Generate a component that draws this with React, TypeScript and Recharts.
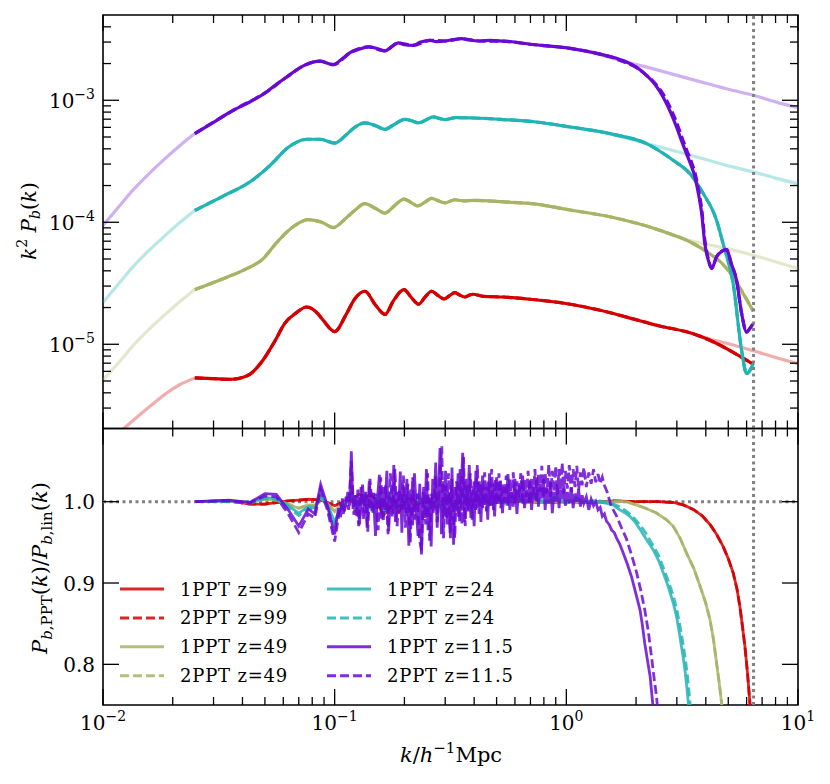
import React from 'react';
import { LineChart, Line, XAxis, YAxis, ReferenceLine, ReferenceArea } from 'recharts';

const RED = '#d40000';
const OLIVE = '#a8b366';
const CYAN = '#22b4b4';
const PURPLE = '#6a08d4';
const GREY = '#808080';
const FONT = "'DejaVu Serif', serif";

// page geometry (svg == page coords)
const W = 830, H = 784;
const L = 103, R = 798, T1 = 15, B1 = 428.5, T2 = 428.5, B2 = 705;

const kNyq = 6.43;
const topDomain = [2.04e-6, 5.0e-3];
const ratioDomain = [0.75, 1.09];

const xTicks = [
  0.01, 0.02, 0.03, 0.04, 0.05, 0.06, 0.07, 0.08, 0.09,
  0.1, 0.2, 0.3, 0.4, 0.5, 0.6, 0.7, 0.8, 0.9,
  1, 2, 3, 4, 5, 6, 7, 8, 9, 10,
];
const topYTicks = [
  3e-6, 4e-6, 5e-6, 6e-6, 7e-6, 8e-6, 9e-6,
  1e-5, 2e-5, 3e-5, 4e-5, 5e-5, 6e-5, 7e-5, 8e-5, 9e-5,
  1e-4, 2e-4, 3e-4, 4e-4, 5e-4, 6e-4, 7e-4, 8e-4, 9e-4,
  1e-3, 2e-3, 3e-3, 4e-3,
];
const ratioYTicks = [0.8, 0.9, 1.0];

// ---- top panel: k^2 P_b(k) ----
const topRed1 = [
  [0.0249, 5.3e-6], [0.03, 5.22e-6], [0.0353, 5.16e-6], [0.04, 5.35e-6], [0.043, 5.67e-6],
  [0.049, 7.4e-6], [0.055, 1.05e-5], [0.061, 1.49e-5], [0.068, 1.8e-5], [0.0757, 2.02e-5],
  [0.083, 1.85e-5], [0.0893, 1.57e-5], [0.1, 1.27e-5], [0.112, 1.75e-5], [0.122, 2.35e-5],
  [0.135, 2.72e-5], [0.15, 2.1e-5], [0.165, 1.76e-5], [0.18, 2.3e-5], [0.199, 2.81e-5],
  [0.215, 2.4e-5], [0.23, 2.13e-5], [0.245, 2.42e-5], [0.262, 2.72e-5], [0.28, 2.5e-5],
  [0.297, 2.35e-5], [0.313, 2.5e-5], [0.33, 2.65e-5], [0.348, 2.52e-5], [0.365, 2.44e-5],
  [0.38, 2.52e-5], [0.396, 2.57e-5], [0.438, 2.47e-5], [0.535, 2.44e-5], [0.697, 2.34e-5],
  [1.04, 2.13e-5], [1.4, 1.9e-5], [1.82, 1.67e-5], [2.5, 1.42e-5], [3.53, 1.22e-5],
  [4.3, 1.05e-5], [4.92, 9.2e-6], [5.6, 8.0e-6], [6.41, 6.86e-6],
];
const topOlive1 = [
  [0.0249, 2.81e-5], [0.033, 3.45e-5], [0.0417, 4.17e-5], [0.0492, 5.04e-5], [0.055, 6.5e-5],
  [0.0621, 8.3e-5], [0.069, 9.7e-5], [0.0769, 1.05e-4], [0.088, 1.0e-4], [0.0986, 9.05e-5],
  [0.11, 1.05e-4], [0.122, 1.25e-4], [0.135, 1.42e-4], [0.15, 1.3e-4], [0.165, 1.19e-4],
  [0.18, 1.35e-4], [0.199, 1.55e-4], [0.214, 1.45e-4], [0.228, 1.36e-4], [0.245, 1.46e-4],
  [0.262, 1.57e-4], [0.28, 1.5e-4], [0.3, 1.44e-4], [0.315, 1.49e-4], [0.33, 1.53e-4],
  [0.36, 1.5e-4], [0.396, 1.51e-4], [0.535, 1.47e-4], [0.74, 1.41e-4], [1.04, 1.26e-4],
  [1.54, 1.11e-4], [2.53, 8.6e-5], [3.53, 6.7e-5], [4.17, 5.5e-5], [4.7, 4.6e-5],
  [5.25, 3.56e-5], [5.8, 2.6e-5], [6.41, 1.87e-5],
];
const topCyan1 = [
  [0.0249, 1.25e-4], [0.033, 1.64e-4], [0.043, 2.14e-4], [0.0508, 2.75e-4], [0.056, 3.3e-4],
  [0.0621, 4.02e-4], [0.068, 4.5e-4], [0.0757, 4.79e-4], [0.0866, 4.79e-4], [0.1, 4.46e-4],
  [0.112, 5.2e-4], [0.122, 6.0e-4], [0.135, 6.52e-4], [0.15, 6.2e-4], [0.165, 5.78e-4],
  [0.18, 6.3e-4], [0.2, 6.98e-4], [0.215, 6.8e-4], [0.23, 6.52e-4], [0.248, 6.9e-4],
  [0.266, 7.3e-4], [0.283, 7.1e-4], [0.3, 6.95e-4], [0.335, 7.22e-4], [0.396, 7.16e-4],
  [0.535, 6.95e-4], [0.74, 6.64e-4], [1.04, 6.04e-4], [1.54, 5.33e-4], [2.22, 4.41e-4],
  [2.89, 3.22e-4], [3.41, 2.51e-4], [3.9, 1.72e-4], [4.45, 1.04e-4], [4.75, 6.68e-5],
  [5.25, 3.15e-5], [5.71, 8.9e-6], [6.0, 5.75e-6], [6.41, 6.95e-6],
];
const topPurple1 = [
  [0.0249, 5.33e-4], [0.03, 6.6e-4], [0.0365, 8.28e-4], [0.043, 9.68e-4], [0.0508, 1.17e-3],
  [0.056, 1.35e-3], [0.0621, 1.55e-3], [0.068, 1.76e-3], [0.0743, 1.94e-3], [0.0866, 2.09e-3],
  [0.0986, 1.96e-3], [0.108, 2.2e-3], [0.118, 2.49e-3], [0.126, 2.6e-3], [0.14, 2.74e-3],
  [0.152, 2.66e-3], [0.165, 2.54e-3], [0.176, 2.75e-3], [0.188, 2.95e-3], [0.2, 2.85e-3],
  [0.218, 2.82e-3], [0.235, 3.0e-3], [0.258, 3.1e-3], [0.275, 3.02e-3], [0.3, 3.06e-3],
  [0.325, 3.14e-3], [0.353, 3.2e-3], [0.38, 3.12e-3], [0.424, 3.06e-3], [0.47, 3.1e-3],
  [0.535, 3.05e-3], [0.6, 3.0e-3], [0.697, 2.88e-3], [0.85, 2.78e-3], [1.04, 2.66e-3],
  [1.31, 2.46e-3], [1.55, 2.28e-3], [1.82, 2.06e-3], [2.0, 1.88e-3], [2.22, 1.6e-3],
  [2.42, 1.34e-3], [2.62, 1.06e-3], [2.8, 8.2e-4], [2.99, 6.04e-4], [3.15, 4.6e-4],
  [3.3, 3.65e-4], [3.45, 2.95e-4], [3.59, 2.35e-4], [3.72, 1.7e-4], [3.84, 1.18e-4],
  [3.96, 6.68e-5], [4.1, 4.9e-5], [4.24, 4.17e-5], [4.45, 5.2e-5], [4.7, 5.8e-5],
  [4.92, 5.97e-5], [5.15, 4.6e-5], [5.43, 3.35e-5], [5.71, 1.79e-5], [6.0, 1.26e-5],
  [6.2, 1.35e-5], [6.41, 1.48e-5],
];
const topPurple2 = [
  [0.0249, 5.33e-4], [0.0365, 8.28e-4], [0.0508, 1.17e-3], [0.0621, 1.55e-3], [0.0743, 1.94e-3],
  [0.0866, 2.09e-3], [0.0986, 1.96e-3], [0.118, 2.49e-3], [0.14, 2.74e-3], [0.165, 2.54e-3],
  [0.188, 2.95e-3], [0.218, 2.82e-3], [0.258, 3.1e-3], [0.3, 3.06e-3], [0.353, 3.2e-3],
  [0.424, 3.06e-3], [0.535, 3.05e-3], [0.697, 2.88e-3], [1.04, 2.66e-3], [1.31, 2.46e-3],
  [1.55, 2.27e-3], [1.82, 2.02e-3], [2.0, 1.86e-3], [2.22, 1.6e-3], [2.42, 1.37e-3],
  [2.62, 1.12e-3], [2.8, 8.8e-4], [2.99, 6.6e-4], [3.15, 5.0e-4], [3.3, 3.95e-4],
  [3.45, 3.2e-4], [3.59, 2.55e-4], [3.72, 1.85e-4], [3.84, 1.28e-4], [3.96, 7.2e-5],
  [4.1, 5.0e-5], [4.24, 4.2e-5], [4.45, 5.2e-5], [4.7, 5.8e-5], [4.92, 5.97e-5],
  [5.15, 4.6e-5], [5.43, 3.35e-5], [5.71, 1.79e-5], [6.0, 1.26e-5], [6.2, 1.35e-5], [6.41, 1.48e-5],
];

// linear theory (faint), left and right of the measured range
const linRedLeft = [
  [0.01, 1.43e-6], [0.01205, 1.97e-6], [0.01352, 2.38e-6], [0.01596, 3.1e-6], [0.01883, 3.99e-6],
  [0.0215, 4.68e-6], [0.0249, 5.3e-6],
];
const linRedRight = [[3.53, 1.22e-5], [4.2, 1.1e-5], [4.92, 1.02e-5], [6.41, 8.85e-6], [8.0, 7.8e-6], [10, 6.93e-6]];
const linOliveLeft = [
  [0.01, 5.1e-6], [0.012, 7.5e-6], [0.01352, 9.8e-6], [0.01596, 1.35e-5], [0.01883, 1.8e-5],
  [0.0215, 2.24e-5], [0.0249, 2.81e-5],
];
const linOliveRight = [[2.53, 8.6e-5], [3.0, 7.6e-5], [3.76, 6.8e-5], [5.0, 6.05e-5], [6.41, 5.37e-5], [8.0, 4.75e-5], [10, 4.17e-5]];
const linCyanLeft = [
  [0.01, 2.2e-5], [0.012, 3.33e-5], [0.01352, 4.35e-5], [0.01596, 5.98e-5], [0.01883, 8.0e-5],
  [0.0215, 9.98e-5], [0.0249, 1.25e-4],
];
const linCyanRight = [[1.54, 5.33e-4], [2.22, 4.41e-4], [3.0, 3.8e-4], [4.0, 3.27e-4], [5.0, 2.9e-4], [6.41, 2.59e-4], [8.0, 2.3e-4], [10, 2.07e-4]];
const linPurpleLeft = [
  [0.01, 9.4e-5], [0.012, 1.42e-4], [0.01352, 1.85e-4], [0.01596, 2.55e-4], [0.01883, 3.42e-4],
  [0.0215, 4.26e-4], [0.0249, 5.33e-4],
];
const linPurpleRight = [[1.31, 2.46e-3], [1.82, 2.06e-3], [2.4, 1.8e-3], [3.0, 1.6e-3], [4.0, 1.38e-3], [5.0, 1.23e-3], [6.41, 1.1e-3], [8.0, 9.7e-4], [10, 8.7e-4]];

// ---- bottom panel: P_PPT / P_lin ----
const ratioRed1 = [
  [0.025, 1.0], [0.035, 1.001], [0.043, 0.997], [0.05, 0.997], [0.056, 0.999], [0.063, 1.001],
  [0.07, 1.002], [0.077, 1.003], [0.087, 1.002], [0.093, 0.999], [0.1, 0.995], [0.11, 1.0],
  [0.12, 1.004], [0.128, 1.009], [0.135, 1.006], [0.145, 1.008], [0.155, 0.998], [0.162, 0.983],
  [0.17, 0.99], [0.18, 0.996], [0.19, 0.988], [0.2, 1.0], [0.215, 1.004], [0.23, 0.997],
  [0.25, 1.003], [0.27, 0.998], [0.3, 1.002], [0.35, 0.998], [0.4, 1.002], [0.5, 0.999],
  [0.6, 1.001], [0.8, 0.999], [1.0, 1.0], [1.3, 0.999], [1.6, 1.001], [2.0, 1.0], [2.5, 1.0],
  [2.89, 0.999], [3.2, 0.996], [3.53, 0.9905], [3.85, 0.983], [4.17, 0.972], [4.45, 0.96],
  [4.75, 0.945], [5.0, 0.93], [5.25, 0.9126], [5.45, 0.893], [5.61, 0.8714], [5.75, 0.848],
  [5.9, 0.822], [6.05, 0.79], [6.2, 0.7525], [6.35, 0.71],
];
const ratioRed2 = ratioRed1;
const ratioOlive1 = [
  [0.025, 1.0], [0.035, 1.001], [0.043, 0.999], [0.05, 1.003], [0.056, 1.002], [0.063, 0.997],
  [0.07, 0.992], [0.077, 0.996], [0.082, 0.995], [0.087, 1.005], [0.093, 0.998], [0.1, 0.988],
  [0.105, 0.995], [0.11, 0.999], [0.118, 1.006], [0.125, 0.998], [0.135, 1.004], [0.145, 0.996],
  [0.155, 1.004], [0.165, 0.992], [0.175, 1.003], [0.19, 0.995], [0.2, 1.003], [0.22, 0.996],
  [0.24, 1.003], [0.27, 0.997], [0.3, 1.002], [0.35, 0.998], [0.4, 1.002], [0.5, 0.999],
  [0.6, 1.002], [0.8, 0.999], [1.0, 1.001], [1.3, 0.999], [1.6, 1.0], [1.82, 1.0], [2.0, 0.996],
  [2.2, 0.992], [2.45, 0.986], [2.7, 0.978], [2.89, 0.97], [3.1, 0.955], [3.3, 0.937],
  [3.55, 0.918], [3.78, 0.896], [4.0, 0.875], [4.17, 0.855], [4.32, 0.83], [4.45, 0.802],
  [4.58, 0.775], [4.68, 0.7525], [4.8, 0.72],
];
const ratioOlive2 = ratioOlive1;
const ratioCyan1 = [
  [0.025, 1.0], [0.035, 1.001], [0.043, 0.999], [0.05, 1.005], [0.056, 1.004], [0.063, 0.995],
  [0.07, 0.986], [0.077, 0.994], [0.082, 0.992], [0.087, 1.008], [0.093, 0.997], [0.1, 0.975],
  [0.105, 0.99], [0.11, 0.997], [0.118, 1.012], [0.125, 0.995], [0.135, 1.005], [0.145, 0.99],
  [0.155, 1.008], [0.165, 0.988], [0.175, 1.01], [0.185, 0.99], [0.2, 1.005], [0.215, 0.985],
  [0.23, 1.008], [0.25, 0.99], [0.27, 1.01], [0.29, 0.99], [0.31, 1.008], [0.33, 0.992],
  [0.36, 1.01], [0.39, 0.995], [0.42, 1.008], [0.46, 0.995], [0.5, 1.006], [0.55, 0.997],
  [0.6, 1.005], [0.66, 0.998], [0.72, 1.006], [0.8, 0.999], [0.9, 1.004], [1.0, 0.998],
  [1.1, 1.003], [1.2, 0.999], [1.35, 1.0], [1.5, 0.998], [1.59, 0.996], [1.7, 0.99],
  [1.8, 0.986], [1.88, 0.982], [1.98, 0.975], [2.08, 0.966], [2.2, 0.955], [2.37, 0.941],
  [2.5, 0.928], [2.62, 0.9126], [2.75, 0.896], [2.89, 0.876], [3.0, 0.857], [3.09, 0.8345],
  [3.18, 0.812], [3.25, 0.793], [3.31, 0.773], [3.36, 0.7525], [3.45, 0.71],
];
const ratioCyan2 = [
  [0.025, 1.0], [0.035, 1.0], [0.043, 0.998], [0.05, 1.004], [0.056, 1.003], [0.063, 0.993],
  [0.07, 0.983], [0.077, 0.992], [0.082, 0.99], [0.087, 1.006], [0.093, 0.995], [0.1, 0.972],
  [0.105, 0.988], [0.11, 0.999], [0.118, 1.01], [0.125, 0.993], [0.135, 1.008], [0.145, 0.988],
  [0.155, 1.006], [0.165, 0.99], [0.175, 1.012], [0.185, 0.988], [0.2, 1.007], [0.215, 0.987],
  [0.23, 1.006], [0.25, 0.988], [0.27, 1.012], [0.29, 0.992], [0.31, 1.006], [0.33, 0.99],
  [0.36, 1.008], [0.39, 0.997], [0.42, 1.01], [0.46, 0.996], [0.5, 1.008], [0.55, 0.998],
  [0.6, 1.007], [0.66, 0.999], [0.72, 1.008], [0.8, 1.0], [0.9, 1.006], [1.0, 0.999],
  [1.1, 1.005], [1.2, 1.0], [1.35, 1.002], [1.5, 0.999], [1.6, 0.997], [1.72, 0.993],
  [1.82, 0.988], [1.9, 0.984], [2.0, 0.977], [2.1, 0.97], [2.22, 0.96], [2.37, 0.946],
  [2.5, 0.934], [2.62, 0.919], [2.75, 0.903], [2.89, 0.885], [3.0, 0.867], [3.1, 0.846],
  [3.2, 0.823], [3.28, 0.802], [3.35, 0.78], [3.41, 0.757], [3.5, 0.71],
];
const ratioPurple1 = [
  [0.025, 1.0], [0.035, 1.002], [0.043, 0.999], [0.05, 1.01], [0.056, 1.009], [0.063, 0.99],
  [0.07, 0.97], [0.077, 0.991], [0.082, 0.985], [0.087, 1.021], [0.093, 0.995],
  [0.1, 0.96], [0.102, 0.978], [0.104, 0.992], [0.106, 0.981], [0.108, 1.004], [0.11, 0.988],
  [0.112, 0.997], [0.114, 1.012], [0.116, 0.995], [0.118, 1.062], [0.12, 0.991], [0.122, 1.008],
  [0.124, 0.983], [0.126, 1.015], [0.128, 0.972], [0.13, 1.002], [0.132, 1.021], [0.134, 0.986],
  [0.136, 1.009], [0.138, 0.968], [0.141, 1.025], [0.144, 0.992], [0.147, 1.011], [0.15, 0.958],
  [0.153, 1.004], [0.156, 1.033], [0.159, 0.979], [0.162, 1.018], [0.165, 0.99], [0.168, 1.038],
  [0.171, 0.964], [0.174, 1.006], [0.177, 0.982], [0.18, 1.045], [0.183, 0.975], [0.186, 1.012],
  [0.189, 0.993], [0.192, 1.037], [0.195, 0.962], [0.198, 1.02], [0.201, 0.986], [0.205, 1.028],
  [0.209, 0.946], [0.213, 1.015], [0.217, 0.971], [0.221, 1.035], [0.225, 0.99], [0.229, 0.958],
  [0.233, 1.022], [0.237, 0.935], [0.241, 1.012], [0.245, 0.98], [0.249, 1.04], [0.253, 0.965],
  [0.257, 1.005], [0.261, 0.945], [0.265, 1.028], [0.269, 0.992], [0.273, 1.048], [0.277, 0.968],
  [0.281, 1.015], [0.285, 1.066], [0.289, 0.96], [0.293, 1.025], [0.297, 0.982], [0.301, 1.038],
  [0.306, 0.972], [0.311, 1.012], [0.316, 0.955], [0.321, 1.042], [0.326, 0.947], [0.331, 1.018],
  [0.336, 0.988], [0.341, 1.035], [0.346, 0.976], [0.351, 1.01], [0.357, 1.06], [0.363, 0.975],
  [0.369, 1.028], [0.375, 0.99], [0.381, 1.045], [0.387, 0.98], [0.393, 1.015], [0.4, 0.97],
  [0.407, 1.038], [0.414, 0.992], [0.421, 1.025], [0.428, 0.975], [0.435, 1.032], [0.442, 0.996],
  [0.45, 1.018], [0.458, 0.978], [0.466, 1.035], [0.474, 0.995], [0.482, 1.022], [0.49, 0.982],
  [0.5, 1.03], [0.51, 1.0], [0.52, 1.026], [0.53, 0.986], [0.54, 1.018], [0.55, 0.998],
  [0.56, 1.034], [0.57, 0.99], [0.58, 1.012], [0.59, 0.994], [0.6, 1.028], [0.612, 0.985],
  [0.624, 1.02], [0.636, 1.0], [0.648, 1.032], [0.66, 0.992], [0.672, 1.015], [0.684, 0.998],
  [0.696, 1.025], [0.708, 0.99], [0.72, 1.018], [0.732, 1.002], [0.745, 1.03], [0.758, 0.994],
  [0.771, 1.022], [0.784, 1.004], [0.797, 1.028], [0.81, 0.99], [0.825, 1.016], [0.84, 0.998],
  [0.855, 1.024], [0.87, 0.986], [0.885, 1.012], [0.9, 1.0], [0.915, 1.022], [0.93, 0.992],
  [0.945, 1.015], [0.96, 1.003], [0.975, 1.02], [0.99, 0.995], [1.01, 1.012], [1.03, 0.998],
  [1.05, 1.018], [1.07, 0.992], [1.09, 1.01], [1.11, 1.0], [1.13, 1.015], [1.15, 0.994],
  [1.17, 1.008], [1.19, 0.998], [1.22, 1.006], [1.25, 0.99], [1.28, 1.003], [1.31, 0.995],
  [1.34, 1.0], [1.37, 0.99], [1.4, 0.993], [1.43, 0.982], [1.46, 0.985], [1.49, 0.976],
  [1.53, 0.972], [1.57, 0.965], [1.61, 0.962], [1.65, 0.955], [1.7, 0.948], [1.76, 0.937],
  [1.83, 0.924], [1.91, 0.908], [2.0, 0.886], [2.08, 0.867], [2.13, 0.848], [2.18, 0.826],
  [2.24, 0.805], [2.3, 0.785], [2.36, 0.752], [2.45, 0.7],
];
const ratioPurple2 = [
  [0.025, 1.0], [0.035, 1.001], [0.043, 0.998], [0.05, 1.007], [0.056, 1.006], [0.063, 0.985],
  [0.07, 0.962], [0.077, 0.985], [0.082, 0.98], [0.087, 1.015], [0.093, 0.99],
  [0.1, 0.951], [0.103, 0.975], [0.106, 0.998], [0.109, 0.985], [0.112, 1.006], [0.115, 0.99],
  [0.118, 1.05], [0.121, 0.984], [0.124, 1.002], [0.127, 0.97], [0.13, 1.018], [0.133, 0.978],
  [0.136, 1.012], [0.139, 0.963], [0.142, 1.028], [0.146, 0.985], [0.15, 1.01], [0.154, 0.965],
  [0.158, 1.03], [0.162, 0.975], [0.166, 1.02], [0.17, 0.96], [0.174, 1.035], [0.178, 0.985],
  [0.182, 1.04], [0.186, 0.97], [0.19, 1.015], [0.194, 0.99], [0.198, 1.032], [0.202, 0.968],
  [0.207, 1.022], [0.212, 0.95], [0.217, 1.03], [0.222, 0.978], [0.227, 1.01], [0.232, 0.955],
  [0.237, 0.94], [0.242, 1.018], [0.247, 0.972], [0.252, 1.035], [0.257, 0.952], [0.262, 1.01],
  [0.267, 0.985], [0.272, 1.032], [0.277, 0.975], [0.283, 1.015], [0.29, 1.068], [0.295, 0.955],
  [0.3, 1.02], [0.305, 0.978], [0.31, 1.035], [0.315, 0.962], [0.32, 1.028], [0.325, 0.985],
  [0.33, 0.955], [0.336, 1.025], [0.342, 0.98], [0.348, 1.04], [0.354, 0.972], [0.36, 1.055],
  [0.366, 0.97], [0.372, 1.02], [0.378, 0.988], [0.385, 1.035], [0.392, 0.978], [0.399, 1.025],
  [0.406, 0.99], [0.413, 1.045], [0.42, 0.985], [0.428, 1.022], [0.436, 0.992], [0.444, 1.036],
  [0.452, 0.988], [0.46, 1.025], [0.468, 0.995], [0.476, 1.04], [0.485, 0.99], [0.494, 1.028],
  [0.503, 0.996], [0.512, 1.035], [0.521, 0.992], [0.53, 1.022], [0.54, 1.0], [0.55, 1.032],
  [0.56, 0.995], [0.57, 1.028], [0.58, 1.004], [0.59, 1.036], [0.6, 0.998], [0.612, 1.025],
  [0.624, 1.005], [0.636, 1.035], [0.648, 0.996], [0.66, 1.028], [0.672, 1.006], [0.684, 1.038],
  [0.696, 0.998], [0.708, 1.03], [0.72, 1.008], [0.732, 1.04], [0.745, 1.0], [0.758, 1.035],
  [0.771, 1.012], [0.784, 1.044], [0.797, 1.004], [0.81, 1.036], [0.825, 1.01], [0.84, 1.046],
  [0.855, 1.006], [0.87, 1.038], [0.885, 1.012], [0.9, 1.044], [0.915, 1.008], [0.93, 1.04],
  [0.945, 1.014], [0.96, 1.048], [0.975, 1.01], [0.99, 1.038], [1.01, 1.016], [1.03, 1.045],
  [1.05, 1.012], [1.07, 1.04], [1.09, 1.018], [1.11, 1.044], [1.13, 1.014], [1.15, 1.036],
  [1.17, 1.02], [1.19, 1.042], [1.22, 1.018], [1.25, 1.036], [1.28, 1.022], [1.31, 1.04],
  [1.34, 1.024], [1.37, 1.034], [1.4, 1.022], [1.43, 1.03], [1.46, 1.02], [1.5, 1.012],
  [1.56, 0.995], [1.65, 0.982], [1.73, 0.968], [1.82, 0.954], [1.91, 0.935], [2.01, 0.913],
  [2.1, 0.89], [2.18, 0.867], [2.26, 0.84], [2.33, 0.81], [2.4, 0.78], [2.45, 0.761], [2.52, 0.72],
];

const pts = (a: number[][]) => a.map(([k, v]) => ({ k, v }));

const isDecade = (v: number) => Math.abs(Math.log10(v) - Math.round(Math.log10(v))) < 1e-6;

function Pow10({ x, y, exp, anchor }: { x: number; y: number; exp: number; anchor: string }) {
  const e = exp < 0 ? '\u2212' + Math.abs(exp) : String(exp);
  return (
    <text x={x} y={y} textAnchor={anchor} fontFamily={FONT} fontSize={20} fill="#000">
      10<tspan dy={-9} fontSize={14}>{e}</tspan>
    </text>
  );
}

const makeXTick = (top: number, bottom: number, labels: boolean) => (props: any) => {
  const { x, payload } = props;
  const v = payload.value;
  const major = isDecade(v);
  const len = major ? 16 : 8;
  return (
    <g>
      <line x1={x} x2={x} y1={bottom} y2={bottom - len} stroke="#000" strokeWidth={1.3} />
      <line x1={x} x2={x} y1={top} y2={top + len} stroke="#000" strokeWidth={1.3} />
      {labels && major && <Pow10 x={x} y={bottom + 25} exp={Math.round(Math.log10(v))} anchor="middle" />}
    </g>
  );
};

const makeYTick = (log: boolean) => (props: any) => {
  const { y, payload } = props;
  const v = payload.value;
  const major = log ? isDecade(v) : true;
  const len = major ? 16 : 8;
  return (
    <g>
      <line x1={L} x2={L + len} y1={y} y2={y} stroke="#000" strokeWidth={1.3} />
      <line x1={R} x2={R - len} y1={y} y2={y} stroke="#000" strokeWidth={1.3} />
      {major && log && <Pow10 x={L - 8} y={y + 7.5} exp={Math.round(Math.log10(v))} anchor="end" />}
      {major && !log && (
        <text x={L - 8} y={y + 7.5} textAnchor="end" fontFamily={FONT} fontSize={20} fill="#000">
          {v.toFixed(1)}
        </text>
      )}
    </g>
  );
};

const topLine = (data: number[][], color: string, key: string, opts: any = {}) => (
  <Line key={key} data={pts(data)} dataKey="v" type="monotone" stroke={color} strokeWidth={3.2}
    dot={false} activeDot={false} isAnimationActive={false} {...opts} />
);

const ratioLine = (data: number[][], color: string, key: string, dashed: boolean) => (
  <Line key={key} data={pts(data)} dataKey="v" type="linear" stroke={color} strokeWidth={2.8}
    strokeOpacity={0.85} strokeDasharray={dashed ? '9 4' : undefined}
    dot={false} activeDot={false} isAnimationActive={false} />
);

const legendItems = [
  { label: '1PPT z=99', color: RED, dashed: false },
  { label: '2PPT z=99', color: RED, dashed: true },
  { label: '1PPT z=49', color: OLIVE, dashed: false },
  { label: '2PPT z=49', color: OLIVE, dashed: true },
  { label: '1PPT z=24', color: CYAN, dashed: false },
  { label: '2PPT z=24', color: CYAN, dashed: true },
  { label: '1PPT z=11.5', color: PURPLE, dashed: false },
  { label: '2PPT z=11.5', color: PURPLE, dashed: true },
];

export default function App() {
  // axes get 1px of size so Recharts still draws their ticks
  const xAxisCommon = {
    type: 'number' as const, dataKey: 'k', scale: 'log' as const, domain: [0.01, 10],
    allowDataOverflow: true, ticks: xTicks, interval: 0, tickLine: false, axisLine: false, height: 1,
  };
  return (
    <div style={{ position: 'absolute', left: 0, top: 0, width: W, height: H, background: '#fff' }}>
      <div style={{ position: 'absolute', left: 0, top: 0 }}>
        <LineChart width={W} height={H} margin={{ top: T1, right: W - R, bottom: H - B1 - 1, left: L - 1 }}>
          <XAxis {...xAxisCommon} tick={makeXTick(T1, B1, false)} />
          <YAxis type="number" dataKey="v" scale="log" domain={topDomain} allowDataOverflow ticks={topYTicks}
            interval={0} tickLine={false} axisLine={false} width={1} tick={makeYTick(true)} />
          {topLine(linRedLeft, RED, 'lr1', { strokeOpacity: 0.32 })}
          {topLine(linRedRight, RED, 'lr2', { strokeOpacity: 0.32 })}
          {topLine(linOliveLeft, OLIVE, 'lo1', { strokeOpacity: 0.32 })}
          {topLine(linOliveRight, OLIVE, 'lo2', { strokeOpacity: 0.32 })}
          {topLine(linCyanLeft, CYAN, 'lc1', { strokeOpacity: 0.32 })}
          {topLine(linCyanRight, CYAN, 'lc2', { strokeOpacity: 0.32 })}
          {topLine(linPurpleLeft, PURPLE, 'lp1', { strokeOpacity: 0.32 })}
          {topLine(linPurpleRight, PURPLE, 'lp2', { strokeOpacity: 0.32 })}
          {topLine(topRed1, RED, 'r1')}
          {topLine(topRed1, RED, 'r2', { strokeDasharray: '9 4' })}
          {topLine(topOlive1, OLIVE, 'o1')}
          {topLine(topOlive1, OLIVE, 'o2', { strokeDasharray: '9 4' })}
          {topLine(topCyan1, CYAN, 'c1')}
          {topLine(topCyan1, CYAN, 'c2', { strokeDasharray: '9 4' })}
          {topLine(topPurple1, PURPLE, 'p1')}
          {topLine(topPurple2, PURPLE, 'p2', { strokeDasharray: '9 4' })}
          <ReferenceLine x={kNyq} stroke={GREY} strokeWidth={3} strokeDasharray="3 3.5" />
          <ReferenceArea x1={0.01} x2={10} y1={topDomain[0]} y2={topDomain[1]} fill="none"
            stroke="#000" strokeWidth={1.6} ifOverflow="visible" />
        </LineChart>
      </div>
      <div style={{ position: 'absolute', left: 0, top: 0 }}>
        <LineChart width={W} height={H} margin={{ top: T2, right: W - R, bottom: H - B2 - 1, left: L - 1 }}>
          <XAxis {...xAxisCommon} tick={makeXTick(T2, B2, true)} />
          <YAxis type="number" dataKey="v" domain={ratioDomain} allowDataOverflow ticks={ratioYTicks}
            interval={0} tickLine={false} axisLine={false} width={1} tick={makeYTick(false)} />
          <ReferenceLine y={1} stroke={GREY} strokeWidth={3} strokeDasharray="3 3.5" />
          <ReferenceLine x={kNyq} stroke={GREY} strokeWidth={3} strokeDasharray="3 3.5" />
          {ratioLine(ratioRed1, RED, 'r1', false)}
          {ratioLine(ratioRed2, RED, 'r2', true)}
          {ratioLine(ratioOlive1, OLIVE, 'o1', false)}
          {ratioLine(ratioOlive2, OLIVE, 'o2', true)}
          {ratioLine(ratioCyan1, CYAN, 'c1', false)}
          {ratioLine(ratioCyan2, CYAN, 'c2', true)}
          {ratioLine(ratioPurple1, PURPLE, 'p1', false)}
          {ratioLine(ratioPurple2, PURPLE, 'p2', true)}
          <ReferenceArea x1={0.01} x2={10} y1={ratioDomain[0]} y2={ratioDomain[1]} fill="none"
            stroke="#000" strokeWidth={1.6} ifOverflow="visible" />
        </LineChart>
      </div>
      <svg width={W} height={H} style={{ position: 'absolute', left: 0, top: 0, pointerEvents: 'none' }}>
        <g fontFamily={FONT} fill="#000">
          <text transform="translate(36,221) rotate(-90)" textAnchor="middle" fontSize={20}>
            <tspan fontStyle="italic">k</tspan>
            <tspan dy={-9} fontSize={14}>2</tspan>
            <tspan dy={9}> </tspan>
            <tspan fontStyle="italic">P</tspan>
            <tspan dy={4} fontSize={14} fontStyle="italic">b</tspan>
            <tspan dy={-4}>(</tspan>
            <tspan fontStyle="italic">k</tspan>
            <tspan>)</tspan>
          </text>
          <text transform="translate(47,568) rotate(-90)" textAnchor="middle" fontSize={21}>
            <tspan fontStyle="italic">P</tspan>
            <tspan dy={5} fontSize={15} fontStyle="italic">b</tspan>
            <tspan fontSize={15}>,PPT</tspan>
            <tspan dy={-5}>(</tspan>
            <tspan fontStyle="italic">k</tspan>
            <tspan>)/</tspan>
            <tspan fontStyle="italic">P</tspan>
            <tspan dy={5} fontSize={15} fontStyle="italic">b</tspan>
            <tspan fontSize={15}>,lin</tspan>
            <tspan dy={-5}>(</tspan>
            <tspan fontStyle="italic">k</tspan>
            <tspan>)</tspan>
          </text>
          <text x={451} y={762} textAnchor="middle" fontSize={21}>
            <tspan fontStyle="italic">k</tspan>
            <tspan>/</tspan>
            <tspan fontStyle="italic">h</tspan>
            <tspan dy={-9} fontSize={15}>{'\u22121'}</tspan>
            <tspan dy={9}>Mpc</tspan>
          </text>
          {legendItems.map((it, i) => {
            const col = Math.floor(i / 4);
            const row = i % 4;
            const x0 = col === 0 ? 120 : 327;
            const y0 = 589 + row * 28.9;
            return (
              <g key={it.label}>
                <line x1={x0} x2={x0 + 44} y1={y0} y2={y0} stroke={it.color} strokeOpacity={0.85}
                  strokeWidth={3} strokeDasharray={it.dashed ? '9 4' : undefined} />
                <text x={x0 + 60} y={y0 + 6.5} fontSize={18} letterSpacing={0.8}>{it.label}</text>
              </g>
            );
          })}
        </g>
      </svg>
    </div>
  );
}
